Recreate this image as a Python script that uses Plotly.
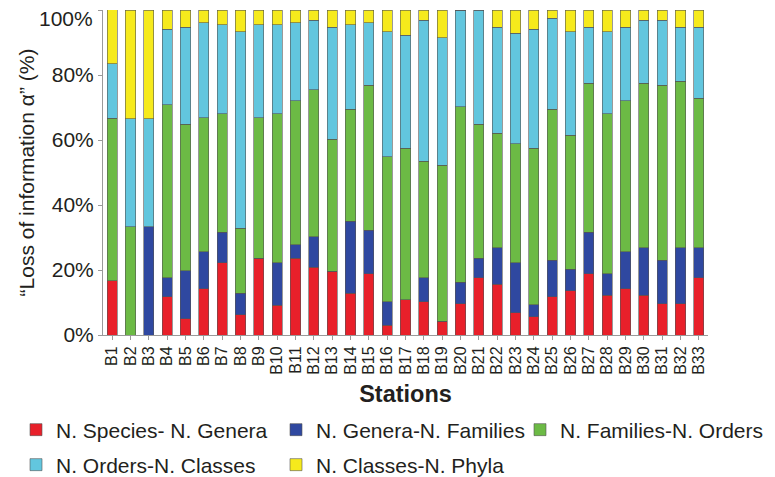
import plotly.graph_objects as go

stations = [f"B{i}" for i in range(1, 34)]

species_genera = [16.7, 0, 0, 11.7, 5.0, 14.2, 22.3, 6.2, 23.6, 9.1, 23.6, 20.9, 19.6, 12.9, 18.9, 3.0,
                  10.9, 10.3, 4.3, 9.6, 17.6, 15.6, 6.9, 5.6, 11.7, 13.6, 18.9, 12.3, 14.2, 12.3, 9.6, 9.6, 17.6]
genera_families = [0, 0, 33.3, 5.9, 14.8, 11.4, 9.3, 6.7, 0, 13.2, 4.1, 9.3, 0, 22.1, 13.3, 7.3,
                   0, 7.3, 0, 6.7, 6.0, 11.3, 15.4, 3.7, 11.3, 6.7, 12.7, 6.6, 11.4, 14.6, 13.4, 17.3, 9.3]
families_orders = [50.0, 33.3, 0, 53.2, 45.0, 41.3, 36.5, 19.9, 43.3, 45.8, 44.4, 45.2, 40.6, 34.5, 44.6, 44.6,
                   46.6, 35.9, 47.9, 53.9, 41.2, 35.2, 36.5, 48.2, 46.5, 41.2, 45.8, 49.2, 46.5, 50.5, 53.8, 51.2, 45.9]
orders_classes = [16.7, 33.3, 33.3, 23.3, 29.9, 29.2, 27.4, 60.5, 28.6, 27.4, 24.0, 21.4, 34.5, 26.0, 19.3, 38.4,
                  34.7, 43.3, 39.2, 29.8, 35.2, 32.6, 34.0, 36.6, 27.9, 31.8, 17.3, 25.2, 22.6, 19.4, 20.0, 16.6, 21.9]
classes_phyla = [16.7, 33.3, 33.3, 5.9, 5.3, 3.9, 4.5, 6.7, 4.5, 4.5, 3.9, 3.2, 5.3, 4.5, 3.9, 6.7,
                 7.8, 3.2, 8.6, 0, 0.2, 5.3, 7.2, 5.9, 2.6, 6.7, 5.3, 6.7, 5.3, 3.2, 3.2, 5.3, 5.3]

y_tickvals = [0, 20, 40, 60, 80, 100]
y_ticktext = ["0%", "20%", "40%", "60%", "80%", "100%"]

series = [
    ("N. Species- N. Genera", species_genera, "#e8202a"),
    ("N. Genera-N. Families", genera_families, "#2f48a0"),
    ("N. Families-N. Orders", families_orders, "#6cba45"),
    ("N. Orders-N. Classes", orders_classes, "#62c6de"),
    ("N. Classes-N. Phyla", classes_phyla, "#f6ea1c"),
]

FONT = "Liberation Sans, Arial, sans-serif"
TXT = "#231f20"

# page body adds an 8px offset; figure coordinates below already compensate
ML, MR, MT, MB = 95, 75, 2, 150
PW = 775 - ML - MR
PH = 477 - MT - MB

fig = go.Figure()
legend_names = ["legend", "legend2", "legend3", "legend4", "legend5"]
for (name, vals, col), lg in zip(series, legend_names):
    fig.add_trace(go.Bar(x=stations, y=vals, name=name, legend=lg, showlegend=True,
                         marker=dict(color=col, line=dict(color="#555555", width=0.6))))

def px_to_paper_x(px):
    return (px - ML) / PW

def px_to_paper_y(py):
    return (477 - MB - py) / PH

leg_pos = [(8, 422), (268, 422), (512, 422), (8, 457), (268, 457)]
leg_layout = {}
for lg, (lx, ly) in zip(legend_names, leg_pos):
    leg_layout[lg] = dict(x=px_to_paper_x(lx), y=px_to_paper_y(ly), xanchor="left", yanchor="middle",
                          orientation="h", font=dict(family=FONT, size=21, color=TXT),
                          bgcolor="rgba(0,0,0,0)")

# the top tick label sits a little below its tick (as in the original), so it is set apart
main_ticktext = y_ticktext[:-1] + [""]

fig.update_layout(
    width=775, height=477,
    margin=dict(l=ML, r=MR, t=MT, b=MB, autoexpand=False),
    barmode="stack", bargap=0.45,
    showlegend=True,
    plot_bgcolor="white", paper_bgcolor="white",
    font=dict(family=FONT, color=TXT),
    **leg_layout,
)
fig.add_annotation(x=0, xref="paper", y=y_tickvals[-1], yref="y", text=y_ticktext[-1],
                   showarrow=False, xanchor="right", yanchor="middle", xshift=-9, yshift=-8,
                   borderpad=0, font=dict(family=FONT, size=21, color=TXT))
fig.update_xaxes(
    tickmode="array", tickvals=stations, ticktext=stations,
    showline=True, linecolor="#9a9a9a", linewidth=1,
    ticks="outside", ticklen=4, tickcolor="#9a9a9a",
    tickangle=-90, tickfont=dict(size=16, color=TXT),
    title=dict(text="<b>Stations</b>", font=dict(size=23.5, color=TXT), standoff=11),
    showgrid=False, automargin=False,
)
fig.update_yaxes(
    range=[0, 100], tickmode="array", tickvals=y_tickvals, ticktext=main_ticktext,
    showline=True, linecolor="#9a9a9a", linewidth=1,
    ticks="outside", ticklen=4, tickcolor="#9a9a9a",
    tickfont=dict(size=21, color=TXT), ticklabeloverflow="allow",
    title=dict(text="\u201cLoss of information \u03b1\u201d (%)", font=dict(size=21, color=TXT), standoff=11),
    showgrid=False, zeroline=False, automargin=False,
)

fig.write_html("out.html")
